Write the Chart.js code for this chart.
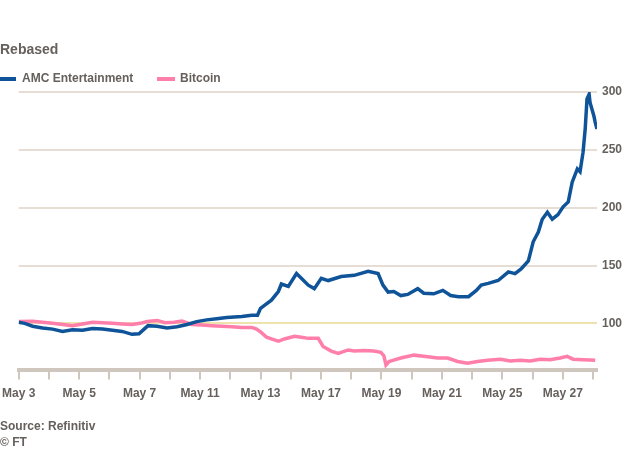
<!DOCTYPE html>
<html>
<head>
<meta charset="utf-8">
<script src="https://cdn.jsdelivr.net/npm/chart.js@4"></script>
<style>
  html, body { margin:0; padding:0; background:#ffffff; }
  #wrap { position:relative; width:630px; height:450px; overflow:hidden; font-family:"Liberation Sans", Arial, sans-serif; color:#66605c; }
  #c { position:absolute; left:-5px; top:0; }
  .t { position:absolute; white-space:nowrap; }
  #title { left:0; top:41px; font-size:14px; font-weight:bold; color:#66605c; }
  .leg { top:71px; font-size:12px; font-weight:bold; color:#66605c; }
  .sw { position:absolute; top:77px; height:4px; }
  #src { left:0; top:419px; font-size:12px; font-weight:bold; }
  #ft { left:0; top:435px; font-size:12px; font-weight:bold; }
</style>
</head>
<body>
<div id="wrap">
  <canvas id="c" width="635" height="450"></canvas>
  <div class="t" id="title">Rebased</div>
  <div class="sw" style="left:0;width:16px;background:#0f5499"></div>
  <div class="t leg" style="left:22px">AMC Entertainment</div>
  <div class="sw" style="left:157px;width:18px;background:#ff7faa"></div>
  <div class="t leg" style="left:180px">Bitcoin</div>
  <div class="t" id="src">Source: Refinitiv</div>
  <div class="t" id="ft">© FT</div>
</div>
<script>
// Trading-day tick labels (one tick per trading day, label every other day)
const dayTicks = [0,1,2,3,4,5,6,7,8,9,10,11,12,13,14,15,16,17,18,19];
const dayLabels = ["May 3","","May 5","","May 7","","May 11","","May 13","","May 17","","May 19","","May 21","","May 25","","May 27",""];
const yTicks = [100,150,200,250,300];

// AMC Entertainment, rebased (time in trading days since May 3)
const amcTime = [0,0.2,0.46,0.79,1.12,1.45,1.78,2.11,2.44,2.77,3.1,3.42,3.75,3.98,4.15,4.28,4.58,4.91,5.24,5.57,5.89,6.22,6.55,6.88,7.38,7.71,7.9,8.0,8.13,8.36,8.59,8.69,8.92,9.19,9.35,9.58,9.78,10.01,10.24,10.67,11.1,11.56,11.89,12.05,12.22,12.41,12.64,12.87,13.2,13.4,13.73,14.03,14.29,14.55,14.88,15.14,15.3,15.53,15.86,16.2,16.42,16.62,16.86,17.02,17.19,17.32,17.49,17.65,17.84,18.01,18.18,18.31,18.48,18.57,18.67,18.74,18.8,18.87,18.9,19.03,19.07,19.13];
const amcValue = [101,100,97.5,96,95,93,94.5,94,95.5,95,94,93,90.5,91,95,98,97.5,96,97,99,101.5,103,104,105,106,107,107,113,115.5,120,127.5,134,132,143,139,133,130,139,137,140.5,141.5,145,143,133,127,127.5,124,125,130,126,125.5,128.5,124,123,123,128.5,133,134.5,137,144.5,143,147,154,170.5,179,190,196,190,194,200.7,205,222,233.5,231,248,268,294,298,291,279,274,268];

// Bitcoin, rebased
const btcTime = [0,0.46,0.79,1.12,1.45,1.78,2.11,2.44,2.77,3.1,3.42,3.75,4.02,4.25,4.58,4.84,5.14,5.4,5.73,6.06,6.39,6.72,7.05,7.38,7.71,7.87,8.03,8.2,8.36,8.59,8.79,9.12,9.35,9.58,9.91,10.07,10.34,10.57,10.9,11.1,11.43,11.75,11.98,12.08,12.15,12.25,12.38,12.64,13.07,13.4,13.86,14.19,14.52,14.85,15.18,15.51,15.94,16.26,16.59,16.92,17.25,17.58,17.91,18.14,18.34,18.67,19.07];
const btcValue = [101.5,101.7,101,100,99,98,99.5,101,100.5,100,99.5,99,100,101.5,102.5,100.5,101,102,99,98.5,98,97.5,97,96.5,96.5,95,92,88,86.5,84.5,86.5,88.8,88,87,87,80,76,74,77,76,76.5,76,75,72,64,67,68,70,72.5,71.5,70,70,67,65.5,67,68,69,67.5,68,67.5,69,68.5,70,71.5,69,68.5,68];

const toXY = (t, v) => t.map((x, i) => ({x: x, y: v[i]}));

new Chart(document.getElementById('c'), {
  type: 'line',
  data: {
    datasets: [
      { label: 'Bitcoin', data: toXY(btcTime, btcValue), borderColor: '#ff7faa', borderWidth: 3.5, pointRadius: 0, tension: 0, order: 2 },
      { label: 'AMC Entertainment', data: toXY(amcTime, amcValue), borderColor: '#0f5499', borderWidth: 3.5, pointRadius: 0, tension: 0, order: 1 }
    ]
  },
  options: {
    responsive: false,
    animation: false,
    layout: { padding: { top: 92, right: 3, bottom: 42, left: 16 } },
    plugins: { legend: { display: false }, tooltip: { enabled: false } },
    scales: {
      x: {
        type: 'linear',
        min: 0,
        max: 19.13,
        afterBuildTicks: (s) => { s.ticks = dayTicks.map(v => ({ value: v })); },
        ticks: {
          autoSkip: false,
          maxRotation: 0,
          padding: 7,
          color: '#66605c',
          font: { family: 'Liberation Sans', size: 12, weight: 'bold' },
          callback: (v) => dayLabels[dayTicks.indexOf(v)] || ''
        },
        grid: { drawOnChartArea: false, drawTicks: true, tickLength: 10, color: '#cfc6be', lineWidth: 2 },
        border: { display: true, color: '#cfc6be', width: 4 }
      },
      y: {
        position: 'right',
        min: 60,
        max: 300,
        afterBuildTicks: (s) => { s.ticks = yTicks.map(v => ({ value: v })); },
        ticks: {
          padding: 5,
          color: '#66605c',
          font: { family: 'Liberation Sans', size: 12, weight: 'bold' }
        },
        grid: {
          drawTicks: false,
          color: (c) => c.tick && c.tick.value === 100 ? '#eee3ad' : '#e6ddd4',
          lineWidth: 2
        },
        border: { display: false }
      }
    }
  }
});
</script>
</body>
</html>
